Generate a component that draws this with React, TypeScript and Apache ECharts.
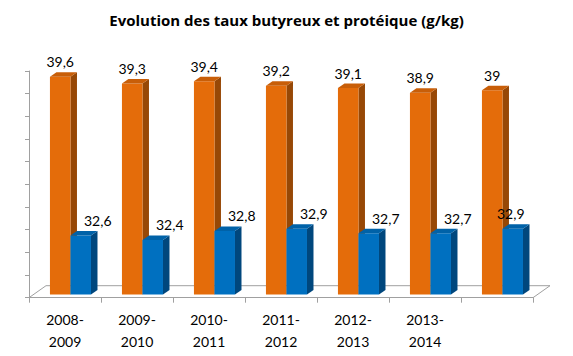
import React, { useEffect, useRef } from "react";
import * as echarts from "echarts";

const categories = ["2008-\n2009", "2009-\n2010", "2010-\n2011", "2011-\n2012", "2012-\n2013", "2013-\n2014", ""];
const tauxButyreux = [39.6, 39.3, 39.4, 39.2, 39.1, 38.9, 39];
const tauxProteique = [32.6, 32.4, 32.8, 32.9, 32.7, 32.7, 32.9];
const yMin = 30;
const yMax = 40;
const yInterval = 1;
const titleText = "Evolution des taux butyreux et protéique (g/kg)";

const FONT = "Lato, 'Open Sans', sans-serif";
const TITLE_FONT = "'Open Sans', Lato, sans-serif";
const AXIS_COLOR = "#A0A0A0";

const orangeColors = { front: "#E46C0A", side: "#974806", top: "#C85E08" };
const blueColors = { front: "#0070C0", side: "#00477D", top: "#0062A8" };

function fmt(v: number) {
  return String(v).replace(".", ",");
}

function makeBarRenderer(colors: any, slot: number, labelDx: (i: number) => number) {
  return (params: any, api: any) => {
    const idx = api.value(0);
    const val = api.value(1);
    const top = api.coord([idx, val]);
    const base = api.coord([idx, yMin]);
    const bandW = api.size([1, 0])[0];
    const barW = bandW * 0.285;
    const shiftX = bandW * 0.076;
    const shiftY = -3.3;
    const depthX = 6.5;
    const depthY = -4.5;
    const x0 = top[0] - (slot === 0 ? barW : 0) + shiftX;
    const x1 = x0 + barW;
    const yT = top[1] + shiftY;
    const yB = base[1] + shiftY;
    return {
      type: "group",
      children: [
        {
          type: "polygon",
          shape: { points: [[x1, yT], [x1 + depthX, yT + depthY], [x1 + depthX, yB + depthY], [x1, yB]] },
          style: { fill: colors.side },
        },
        {
          type: "rect",
          shape: { x: x0, y: yT, width: barW, height: yB - yT },
          style: { fill: colors.front },
        },
        {
          type: "polygon",
          shape: { points: [[x0, yT], [x1, yT], [x1 + depthX, yT + depthY], [x0 + depthX, yT + depthY]] },
          style: { fill: colors.top },
        },
        {
          type: "text",
          x: (x0 + x1) / 2 + labelDx(idx),
          y: yT - 15,
          style: {
            text: fmt(val),
            fill: "#000",
            fontSize: 14,
            fontFamily: FONT,
            align: "center",
            verticalAlign: "middle",
          },
        },
      ],
    };
  };
}

function floorRenderer(params: any, api: any) {
  const n = categories.length;
  const bandW = api.size([1, 0])[0];
  const l = api.coord([0, yMin]);
  const r = api.coord([n - 1, yMin]);
  const left = l[0] - bandW / 2;
  const right = r[0] + bandW / 2;
  const y = l[1];
  const dx = 17;
  const dy = -12;
  return {
    type: "polyline",
    shape: { points: [[left, y], [left + dx, y + dy], [right + dx, y + dy], [right, y]] },
    style: { stroke: AXIS_COLOR, fill: "none", lineWidth: 1 },
    silent: true,
  };
}

export default function App() {
  const ref = useRef<HTMLDivElement>(null);
  useEffect(() => {
    if (!ref.current) return;
    const chart = echarts.init(ref.current, undefined, { renderer: "svg" });
    const lastIdx = categories.length - 1;
    chart.setOption({
      animation: false,
      backgroundColor: "#fff",
      title: {
        text: titleText,
        left: "center",
        top: 7,
        textStyle: { fontFamily: TITLE_FONT, fontSize: 15, fontWeight: "bold", color: "#000" },
      },
      grid: { left: 29, right: 40, top: 71, bottom: 58.3, containLabel: false, outerBoundsMode: "none" },
      xAxis: {
        type: "category",
        data: categories,
        boundaryGap: true,
        axisLine: { show: true, lineStyle: { color: AXIS_COLOR, width: 1 } },
        axisTick: { show: true, length: 5, alignWithLabel: false, lineStyle: { color: AXIS_COLOR } },
        axisLabel: { interval: 0, fontSize: 14, lineHeight: 22, margin: 11, color: "#000", fontFamily: FONT },
        splitLine: { show: false },
      },
      yAxis: {
        type: "value",
        min: yMin,
        max: yMax,
        interval: yInterval,
        axisLine: { show: true, lineStyle: { color: AXIS_COLOR, width: 1 } },
        axisTick: { show: true, length: 4, lineStyle: { color: AXIS_COLOR } },
        axisLabel: { show: false },
        splitLine: { show: false },
      },
      series: [
        {
          type: "custom",
          name: "floor",
          data: [[0, yMin]],
          renderItem: floorRenderer,
          z: 1,
          silent: true,
        },
        {
          type: "custom",
          name: "Taux butyreux",
          data: tauxButyreux.map((v, i) => [i, v]),
          renderItem: makeBarRenderer(orangeColors, 0, () => 0),
          z: 2,
        },
        {
          type: "custom",
          name: "Taux protéique",
          data: tauxProteique.map((v, i) => [i, v]),
          renderItem: makeBarRenderer(blueColors, 1, (i: number) => (i === lastIdx ? -2 : 17)),
          z: 3,
        },
      ],
    });
    return () => chart.dispose();
  }, []);
  return (
    <div
      ref={ref}
      style={{ position: "fixed", left: 0, top: 0, width: 573, height: 356, background: "#fff" }}
    />
  );
}
